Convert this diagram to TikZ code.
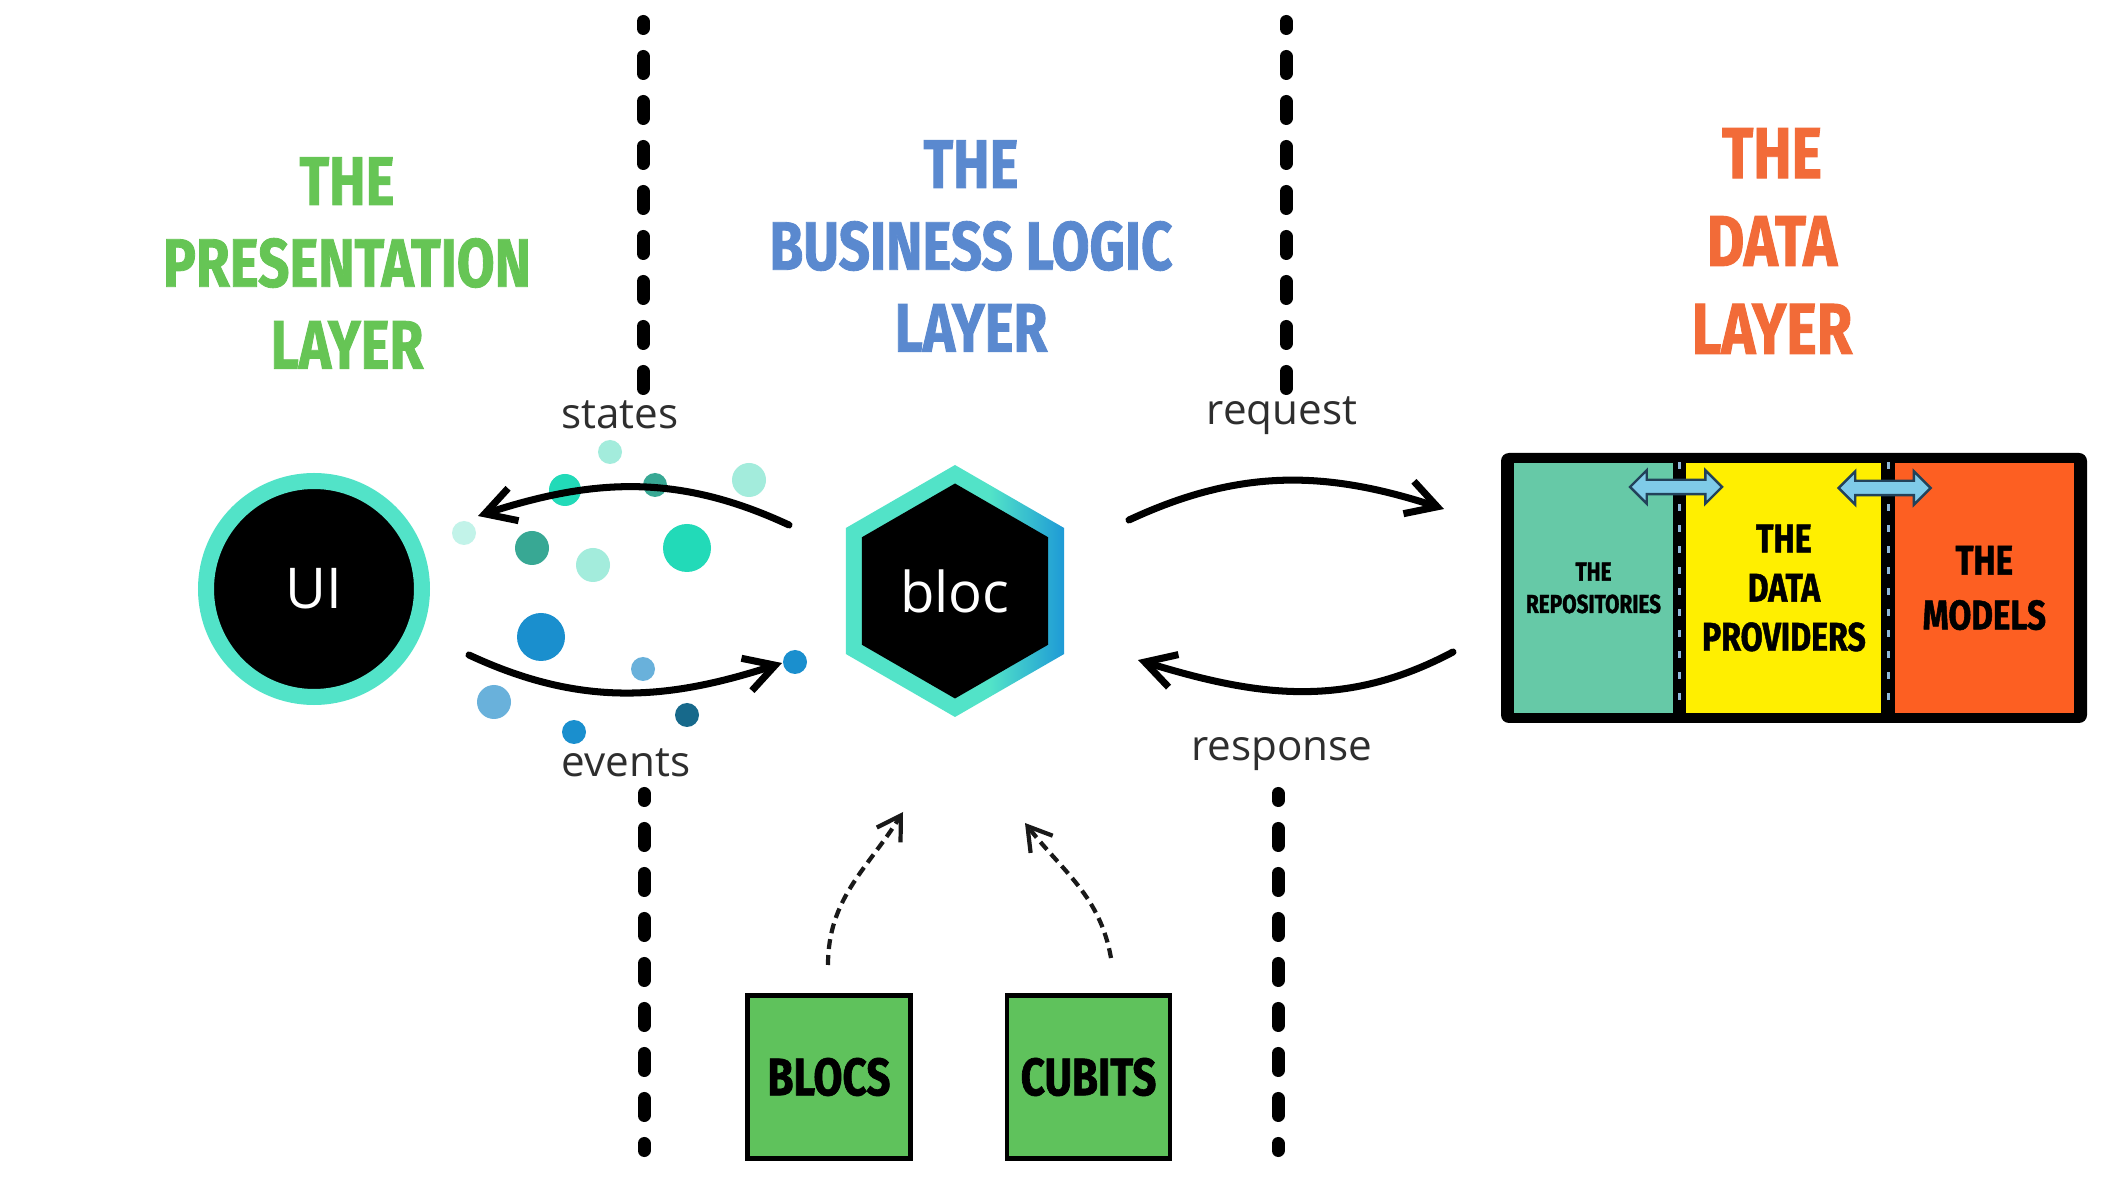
\documentclass[tikz,border=0pt]{standalone}
\usepackage{fontspec}
\setmainfont{Open Sans}
\newfontfamily\titlefont[FakeStretch=0.80, BoldFeatures={FakeBold=1.2}]{Fira Sans}
\usetikzlibrary{shapes.geometric,shapes.arrows,arrows.meta,positioning}

\definecolor{vertcouche}{HTML}{66C555}
\definecolor{bleucouche}{HTML}{5A89CF}
\definecolor{orangecouche}{HTML}{F26B38}
\definecolor{turquoise}{HTML}{52E3C8}
\definecolor{bleuanneau}{HTML}{1E9AD6}
\definecolor{repoteal}{HTML}{66C9A7}
\definecolor{provjaune}{HTML}{FFEF00}
\definecolor{modorange}{HTML}{FD5F22}
\definecolor{vertboite}{HTML}{5FC25C}
\definecolor{flechebleue}{HTML}{7FCBE8}
\definecolor{contourfleche}{HTML}{22425A}
\definecolor{traitbleu}{HTML}{8FB8D8}
\definecolor{gristexte}{HTML}{2E2E2E}
\definecolor{tealpale}{HTML}{C2F3E9}
\definecolor{tealclair}{HTML}{A3ECDC}
\definecolor{tealvif}{HTML}{22DAB8}
\definecolor{tealfonce}{HTML}{38A894}
\definecolor{bleuvif}{HTML}{1A8FCE}
\definecolor{bleuclair}{HTML}{69B1DB}
\definecolor{bleufonce}{HTML}{17698B}

\pgfdeclarehorizontalshading{anneau}{100bp}{color(0bp)=(turquoise); color(25bp)=(turquoise); color(58bp)=(turquoise); color(75bp)=(bleuanneau); color(100bp)=(bleuanneau)}

\begin{document}
\begin{tikzpicture}[
  titre/.style={align=center, font=\titlefont\bfseries\fontsize{19.5}{23.3}\selectfont},
  etiquette/.style={font=\fontsize{12}{14}\selectfont, text=gristexte},
  fleche/.style={line width=2pt, line cap=round, -{Straight Barb[length=3mm,width=3.4mm]}},
  pointille/.style={line width=1.2pt, gray!20!black, dash pattern=on 0.1cm off 0.06cm, -{Straight Barb[length=2.3mm,width=2.8mm]}},
  separation/.style={line width=0.13cm, line cap=round, dash pattern=on 0.17cm off 0.28cm, dash phase=0.10cm},
  hexa/.style={regular polygon, regular polygon sides=6, shape border rotate=30, inner sep=0},
  panneau/.style={minimum height=2.5cm, inner sep=0, align=center},
  boite/.style={draw=black, line width=1.3pt, fill=vertboite, minimum size=1.63cm, font=\titlefont\bfseries\fontsize{15}{19}\selectfont},
  dblfleche/.style={double arrow, draw=contourfleche, fill=flechebleue, line width=0.7pt, minimum height=0.92cm, inner xsep=0, inner ysep=0.06cm, double arrow head extend=0.095cm}
]
%cadre
\fill[white] (0,0) rectangle (21.12,-11.84);
\useasboundingbox (0,0) rectangle (21.12,-11.84);
%fin

%titres
\node[titre, text=vertcouche] (presentation) at (3.47,-2.63) {THE\\PRESENTATION\\LAYER};
\node[titre, text=bleucouche] (business) at (9.71,-2.46) {THE\\BUSINESS LOGIC\\LAYER};
\node[titre, text=orangecouche, font=\titlefont\bfseries\fontsize{20.5}{25}\selectfont] (data) at (17.72,-2.41) {THE\\DATA\\LAYER};
%fin

%pointillés
\draw[separation] (6.43,-0.215) -- (6.43,-3.885);
\draw[separation] (12.86,-0.215) -- (12.86,-3.885);
\draw[separation] (6.44,-7.935) -- (6.44,-11.505);
\draw[separation] (12.78,-7.935) -- (12.78,-11.505);
%fin

%UI et bloc
\node[circle, fill=black, draw=turquoise, line width=0.16cm, minimum size=2.16cm, text=white, font=\fontsize{16}{19}\selectfont] (ui) at (3.14,-5.89) {UI};
\node[hexa, minimum size=2.52cm, shading=anneau] (anneau) at (9.55,-5.91) {};
\node[hexa, minimum size=2.15cm, fill=black, text=white, font=\fontsize{16}{19}\selectfont] (bloc) at (anneau.center) {bloc};
%fin

%particules
\fill[tealclair] (6.10,-4.52) circle (0.12);
\fill[tealvif] (5.65,-4.90) circle (0.16);
\fill[tealfonce] (6.55,-4.85) circle (0.12);
\fill[tealclair] (7.49,-4.80) circle (0.17);
\fill[tealpale] (4.64,-5.33) circle (0.12);
\fill[tealfonce] (5.32,-5.48) circle (0.17);
\fill[tealclair] (5.93,-5.65) circle (0.17);
\fill[tealvif] (6.87,-5.48) circle (0.24);
\fill[bleuvif] (5.41,-6.37) circle (0.24);
\fill[bleuclair] (6.43,-6.69) circle (0.12);
\fill[bleuvif] (7.95,-6.62) circle (0.12);
\fill[bleuclair] (4.94,-7.02) circle (0.17);
\fill[bleuvif] (5.74,-7.32) circle (0.12);
\fill[bleufonce] (6.87,-7.15) circle (0.12);
%fin

%flèches states / events
\coordinate (st1) at (7.89,-5.25);
\coordinate (st2) at (4.78,-5.16);
\draw[fleche] (st1) to[out=155,in=18] (st2);
\node[etiquette] (states) at (6.20,-4.15) {states};
\coordinate (ev1) at (4.69,-6.55);
\coordinate (ev2) at (7.82,-6.63);
\draw[fleche] (ev1) to[out=-25,in=198] (ev2);
\node[etiquette] (events) at (6.26,-7.63) {events};
%fin

%flèches request / response
\coordinate (rq1) at (11.29,-5.20);
\coordinate (rq2) at (14.44,-5.09);
\draw[fleche] (rq1) to[out=25,in=162] (rq2);
\node[etiquette] (request) at (12.82,-4.16) {request};
\coordinate (rp1) at (14.53,-6.52);
\coordinate (rp2) at (11.38,-6.60);
\draw[fleche] (rp1) to[out=208,in=343] (rp2);
\node[etiquette] (response) at (12.82,-7.54) {response};
%fin

%couche données
\node[fill=black, rounded corners=0.08cm, minimum width=5.86cm, minimum height=2.70cm, inner sep=0] (datalayer) at (17.94,-5.88) {};
\node[panneau, fill=repoteal, minimum width=1.59cm, font=\titlefont\bfseries\fontsize{7.4}{9.2}\selectfont] (repositories) at (15.935,-5.88) {THE\\REPOSITORIES};
\node[panneau, fill=provjaune, minimum width=1.95cm, right=0.12cm of repositories, font=\titlefont\bfseries\fontsize{11.4}{14}\selectfont] (providers) {THE\\DATA\\PROVIDERS};
\node[panneau, fill=modorange, minimum width=1.79cm, right=0.12cm of providers, font=\titlefont\bfseries\fontsize{11.8}{15.6}\selectfont] (models) {THE\\MODELS};
\draw[traitbleu, line width=0.8pt, dash pattern=on 0.07cm off 0.14cm] ([xshift=0.06cm]repositories.north east) -- ([xshift=0.06cm]repositories.south east);
\draw[traitbleu, line width=0.8pt, dash pattern=on 0.07cm off 0.14cm] ([xshift=0.06cm]providers.north east) -- ([xshift=0.06cm]providers.south east);
\node[dblfleche] (arr1) at (16.76,-4.87) {};
\node[dblfleche] (arr2) at (18.845,-4.88) {};
%fin

%blocs et cubits
\node[boite] (blocs) at (8.29,-10.77) {BLOCS};
\node[boite, right=0.92cm of blocs] (cubits) {CUBITS};
\coordinate (bl1) at (8.28,-9.65);
\coordinate (bl2) at (9.03,-8.12);
\draw[pointille] (bl1) to[out=90,in=238] (bl2);
\coordinate (cu1) at (11.11,-9.58);
\coordinate (cu2) at (10.25,-8.23);
\draw[pointille] (cu1) to[out=100,in=308] (cu2);
%fin
\end{tikzpicture}
\end{document}
